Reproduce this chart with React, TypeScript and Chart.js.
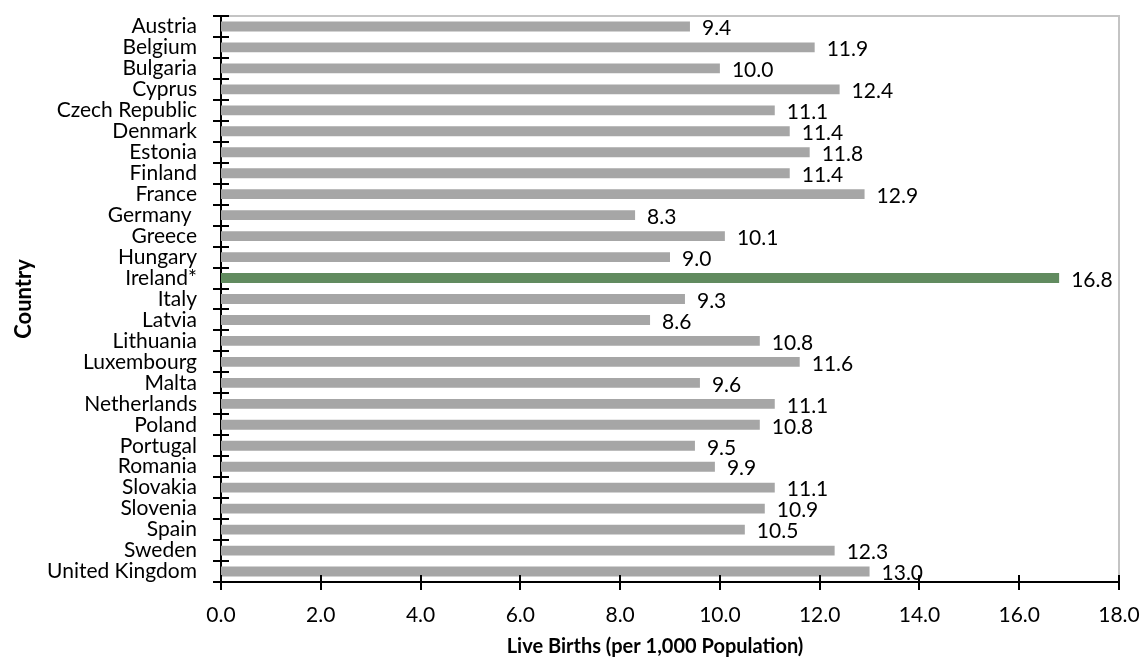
import React, { useEffect, useRef } from "react";
import { Chart, registerables } from "chart.js";

Chart.register(...registerables);

const countries = [
  "Austria", "Belgium", "Bulgaria", "Cyprus", "Czech Republic", "Denmark", "Estonia",
  "Finland", "France", "Germany ", "Greece", "Hungary", "Ireland*", "Italy", "Latvia",
  "Lithuania", "Luxembourg", "Malta", "Netherlands", "Poland", "Portugal", "Romania",
  "Slovakia", "Slovenia", "Spain", "Sweden", "United Kingdom",
];

const liveBirths = [
  9.4, 11.9, 10.0, 12.4, 11.1, 11.4, 11.8,
  11.4, 12.9, 8.3, 10.1, 9.0, 16.8, 9.3, 8.6,
  10.8, 11.6, 9.6, 11.1, 10.8, 9.5, 9.9,
  11.1, 10.9, 10.5, 12.3, 13.0,
];

const highlightCountry = "Ireland*";
const xTickMin = 0;
const xTickMax = 18;
const xTickStep = 2;

const xTitle = "Live Births (per 1,000 Population)";
const yTitle = "Country";

const GRAY = "#A6A6A6";
const GREEN = "#618B5F";
const FONT = "Lato";

const decorPlugin = {
  id: "decor",
  beforeDatasetsDraw(chart: any) {
    const { ctx, chartArea } = chart;
    ctx.save();
    ctx.strokeStyle = "#C4C4C4";
    ctx.lineWidth = 2;
    ctx.beginPath();
    ctx.moveTo(chartArea.left, chartArea.top);
    ctx.lineTo(chartArea.right, chartArea.top);
    ctx.lineTo(chartArea.right, chartArea.bottom);
    ctx.stroke();
    ctx.restore();
  },
  afterDraw(chart: any) {
    const { ctx, chartArea } = chart;
    const xs = chart.scales.x;
    const ys = chart.scales.y;
    ctx.save();
    ctx.strokeStyle = "#000";
    ctx.lineWidth = 2;
    ctx.beginPath();
    xs.ticks.forEach((t: any) => {
      const px = Math.round(xs.getPixelForValue(t.value));
      ctx.moveTo(px, chartArea.bottom - 7);
      ctx.lineTo(px, chartArea.bottom + 8);
    });
    for (let i = 0; i <= countries.length; i++) {
      const py = Math.round(ys.getPixelForValue(i - 0.5));
      ctx.moveTo(chartArea.left - 8, py);
      ctx.lineTo(chartArea.left + 8, py);
    }
    ctx.stroke();

    const meta = chart.getDatasetMeta(0);
    ctx.fillStyle = "#000";
    ctx.font = `21px ${FONT}`;
    ctx.textAlign = "left";
    ctx.textBaseline = "middle";
    meta.data.forEach((bar: any, i: number) => {
      ctx.fillText(liveBirths[i].toFixed(1), bar.x + 12, bar.y + 2);
    });

    // x axis title (slightly left of plot centre, as in the original)
    ctx.font = `bold 20px ${FONT}`;
    ctx.textAlign = "center";
    ctx.textBaseline = "middle";
    ctx.fillText(xTitle, (chartArea.left + chartArea.right) / 2 - 15, xs.bottom - 12);
    ctx.restore();
  },
};

const zeroPad = (s: any) => {
  s.paddingTop = 0;
  s.paddingBottom = 0;
  s.paddingLeft = 0;
  s.paddingRight = 0;
};

export default function App() {
  const canvasRef = useRef<HTMLCanvasElement | null>(null);

  useEffect(() => {
    if (!canvasRef.current) return;
    const chart = new Chart(canvasRef.current, {
      type: "bar",
      data: {
        labels: countries,
        datasets: [
          {
            data: liveBirths,
            backgroundColor: countries.map((c) => (c === highlightCountry ? GREEN : GRAY)),
            borderWidth: 0,
            barPercentage: 0.47,
            categoryPercentage: 1,
          },
        ],
      },
      options: {
        indexAxis: "y",
        animation: false,
        responsive: true,
        maintainAspectRatio: false,
        layout: { padding: { top: 16, right: 23, left: 0, bottom: 0 } },
        plugins: {
          legend: { display: false },
          tooltip: { enabled: false },
        },
        scales: {
          x: {
            min: xTickMin,
            max: xTickMax,
            grid: { display: false, drawTicks: false },
            border: { display: true, color: "#000", width: 2 },
            ticks: {
              stepSize: xTickStep,
              color: "#000",
              font: { family: FONT, size: 21 },
              padding: 21,
              callback: (v: any) => Number(v).toFixed(1),
            },
            title: { display: false, text: xTitle },
            afterFit: (s: any) => {
              s.height = 77;
              zeroPad(s);
            },
          },
          y: {
            grid: { display: false, drawTicks: false },
            border: { display: true, color: "#000", width: 2 },
            ticks: {
              color: "#000",
              font: { family: FONT, size: 21 },
              padding: 24,
              autoSkip: false,
            },
            title: {
              display: true,
              text: yTitle,
              color: "#000",
              font: { family: FONT, size: 22, weight: "bold" },
              padding: { top: 11, bottom: 0 },
            },
            afterFit: (s: any) => {
              s.width = 221;
              zeroPad(s);
            },
          },
        },
      },
      plugins: [decorPlugin],
    });
    return () => chart.destroy();
  }, []);

  return (
    <div style={{ position: "fixed", left: 0, top: 0, width: 1142, height: 659, background: "#fff" }}>
      <canvas ref={canvasRef} />
    </div>
  );
}
